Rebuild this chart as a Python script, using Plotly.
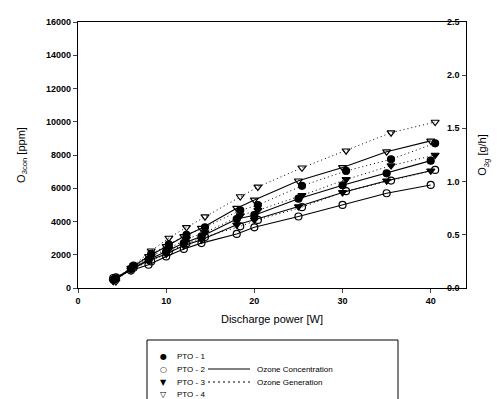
import plotly.graph_objects as go

# ---- data ----
power_conc = [4, 6, 8, 10, 12, 14, 18, 20, 25, 30, 35, 40]
power_gen = [4.3, 6.3, 8.3, 10.3, 12.3, 14.4, 18.4, 20.4, 25.4, 30.4, 35.5, 40.5]

series_names = ["PTO - 1", "PTO - 2", "PTO - 3", "PTO - 4"]

conc_pto1 = [500, 1150, 1700, 2200, 2700, 3100, 4150, 4380, 5370, 6180, 6900, 7660]
conc_pto2 = [600, 1050, 1400, 1900, 2350, 2700, 3250, 3650, 4300, 5000, 5700, 6200]
conc_pto3 = [450, 1100, 1650, 2050, 2550, 2900, 3800, 4100, 4900, 5750, 6450, 7050]
conc_pto4 = [400, 1200, 1900, 2500, 3100, 3600, 4800, 5300, 6450, 7250, 8200, 8850]

gen_pto1 = [0.09, 0.21, 0.32, 0.41, 0.50, 0.57, 0.73, 0.78, 0.96, 1.10, 1.21, 1.36]
gen_pto2 = [0.10, 0.19, 0.25, 0.34, 0.42, 0.48, 0.58, 0.64, 0.76, 0.91, 1.01, 1.11]
gen_pto3 = [0.08, 0.20, 0.30, 0.37, 0.46, 0.52, 0.68, 0.73, 0.87, 1.02, 1.15, 1.25]
gen_pto4 = [0.06, 0.21, 0.35, 0.47, 0.57, 0.67, 0.86, 0.95, 1.13, 1.29, 1.46, 1.56]

x_ticks = [0, 10, 20, 30, 40]
y_ticks = [0, 2000, 4000, 6000, 8000, 10000, 12000, 14000, 16000]
y2_ticks = [0.0, 0.5, 1.0, 1.5, 2.0, 2.5]

# ---- styles ----
symbols = ["circle", "circle-open", "triangle-down", "triangle-down-open"]
glyphs = ["\u25CF", "\u25CB", "\u25BC", "\u25BD"]
FONT = "Liberation Sans, Arial, sans-serif"

conc_all = [conc_pto1, conc_pto2, conc_pto3, conc_pto4]
gen_all = [gen_pto1, gen_pto2, gen_pto3, gen_pto4]

fig = go.Figure()
for name, sym, c in zip(series_names, symbols, conc_all):
    fig.add_trace(go.Scatter(
        x=power_conc, y=c, name=name, mode="lines+markers",
        line=dict(color="black", width=1.1),
        marker=dict(symbol=sym, size=7, color="black",
                    line=dict(color="black", width=1.2)),
        showlegend=False))
for name, sym, g in zip(series_names, symbols, gen_all):
    fig.add_trace(go.Scatter(
        x=power_gen, y=g, name=name, mode="lines+markers", yaxis="y2",
        line=dict(color="black", width=1, dash="1px,3px"),
        marker=dict(symbol=sym, size=7, color="black",
                    line=dict(color="black", width=1.2)),
        showlegend=False))

W, H = 503, 399
L, R, T, B = 70, 45, 14, 119
pw, ph = W - L - R, H - T - B

def px(x):
    return (x - L) / pw

def py(y):
    return (H - B - y) / ph

tickfont = dict(family=FONT, size=9, color="black", weight="bold")
titlefont = dict(family=FONT, size=11, color="black")

fig.update_layout(
    width=W, height=H,
    margin=dict(l=L, r=R, t=T, b=B, autoexpand=False),
    paper_bgcolor="white", plot_bgcolor="white",
    font=dict(family=FONT, color="black"),
    xaxis=dict(range=[0, 44], tickvals=x_ticks, ticks="outside", ticklen=4,
               showline=True, linecolor="black", linewidth=1.2, mirror=True,
               showgrid=False, zeroline=False, tickfont=tickfont, automargin=False,
               title=dict(text="Discharge power [W]", standoff=10, font=titlefont)),
    yaxis=dict(range=[0, 16000], tickvals=y_ticks, tickformat="d",
               ticks="outside", ticklen=4,
               showline=True, linecolor="black", linewidth=1.2,
               showgrid=False, zeroline=False, tickfont=tickfont, automargin=False,
               title=dict(text="O<sub>3con</sub> [ppm]", standoff=18, font=titlefont)),
    yaxis2=dict(range=[0, 2.5], tickvals=y2_ticks,
                overlaying="y", side="right", ticks="inside", ticklen=4,
                showticklabels=False,
                showline=True, linecolor="black", linewidth=1.2,
                showgrid=False, zeroline=False, automargin=False,
                title=dict(text="O<sub>3g</sub> [g/h]", standoff=12, font=titlefont)),
)

# right-axis tick labels drawn just inside the axis line, as in the reference
for v in y2_ticks:
    fig.add_annotation(x=1.0, y=v, xref="paper", yref="y2", text=f"{v:.1f}",
                       showarrow=False, xanchor="right", yanchor="middle", xshift=-4,
                       font=tickfont)

# ---- custom legend box below the plot ----
fig.add_shape(type="rect", xref="paper", yref="paper",
              x0=px(139), x1=px(390), y0=py(410), y1=py(332),
              line=dict(color="black", width=1), fillcolor="white")

row_y = [348, 361, 374, 386]
for name, gl, yy in zip(series_names, glyphs, row_y):
    fig.add_annotation(x=px(155), y=py(yy), xref="paper", yref="paper",
                       text=gl, showarrow=False, xanchor="center", yanchor="middle",
                       font=dict(family="DejaVu Sans", size=8, color="black"))
    fig.add_annotation(x=px(167), y=py(yy), xref="paper", yref="paper",
                       text=name, showarrow=False, xanchor="left", yanchor="middle",
                       font=dict(family=FONT, size=8, color="black"))

line_labels = ["Ozone Concentration", "Ozone Generation"]
line_dash = ["solid", "2px,3px"]
for lab, dsh, yy in zip(line_labels, line_dash, row_y[1:3]):
    fig.add_shape(type="line", xref="paper", yref="paper",
                  x0=px(200), x1=px(242), y0=py(yy), y1=py(yy),
                  line=dict(color="black", width=1, dash=dsh))
    fig.add_annotation(x=px(247), y=py(yy), xref="paper", yref="paper",
                       text=lab, showarrow=False, xanchor="left", yanchor="middle",
                       font=dict(family=FONT, size=8, color="black"))

fig.write_html("out.html")
